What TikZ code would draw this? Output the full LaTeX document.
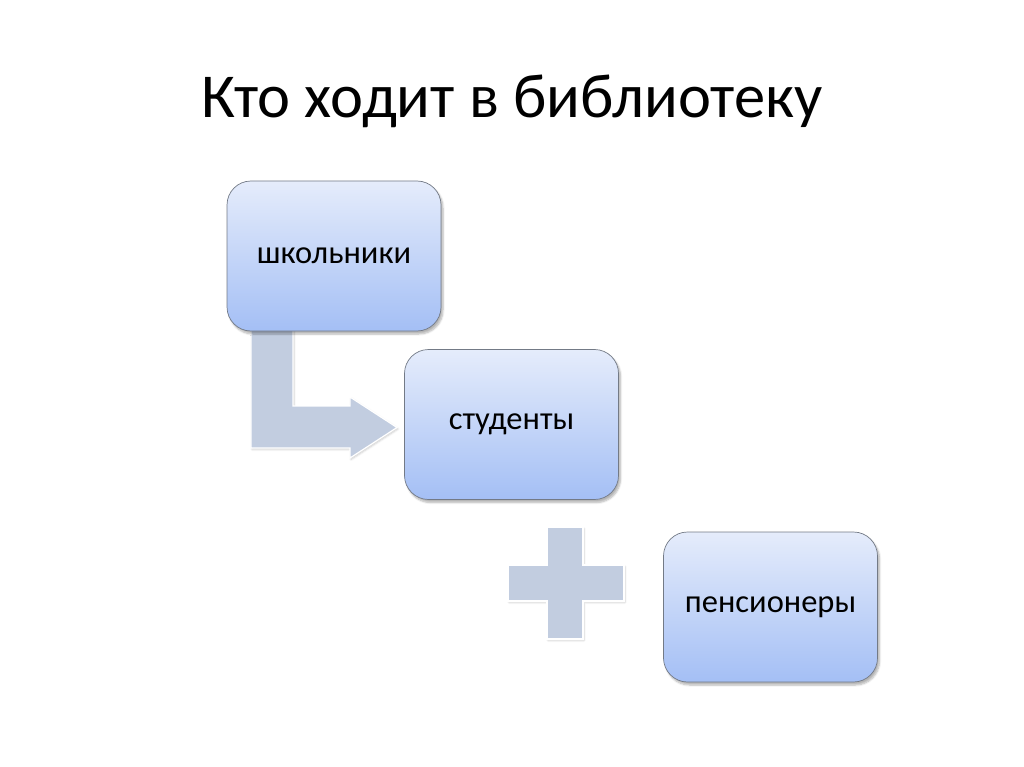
\documentclass[tikz,border=0pt]{standalone}
\usepackage{fontspec}
\setmainfont{Carlito}
\usetikzlibrary{shadows.blur}
\definecolor{boxtop}{RGB}{229,236,251}
\definecolor{boxbot}{RGB}{164,191,245}
\definecolor{boxedge}{RGB}{115,122,134}
\definecolor{arrowfill}{RGB}{194,205,224}
\tikzset{
  stage/.style={rectangle, rounded corners=24pt, minimum width=214pt, minimum height=150pt,
    top color=boxtop, bottom color=boxbot, draw=boxedge, line width=0.7pt,
    font=\fontsize{32.5}{38}\selectfont, text=black,
    blur shadow={shadow xshift=2pt, shadow yshift=-3pt, shadow blur steps=6, shadow opacity=30}},
  connshape/.style={fill=arrowfill, draw=white, line width=1.2pt,
    blur shadow={shadow xshift=1pt, shadow yshift=-1.5pt, shadow blur steps=4, shadow opacity=20}},
  titletext/.style={font=\fontsize{62.5}{70}\selectfont, text=black}
}
\begin{document}
\begin{tikzpicture}[x=1pt,y=-1pt]
\useasboundingbox (0,0) rectangle (1024,767);
\node[titletext] (title) at (512,101) {Кто ходит в библиотеку};
% bent arrow
\path[connshape] (251,330) -- (293,330) -- (293,406) -- (350,406) -- (350,397) -- (397,427.5)
  -- (350,458) -- (350,448) -- (251,448) -- cycle;
% plus
\path[connshape] (547,527) -- (583,527) -- (583,565) -- (624,565) -- (624,601) -- (583,601)
  -- (583,639) -- (547,639) -- (547,601) -- (508,601) -- (508,565) -- (547,565) -- cycle;
\node[stage] (s1) at (334,256) {школьники};
\node[stage] (s2) at (511.5,424.5) {студенты};
\node[stage] (s3) at (770.5,607) {пенсионеры};
\end{tikzpicture}
\end{document}
